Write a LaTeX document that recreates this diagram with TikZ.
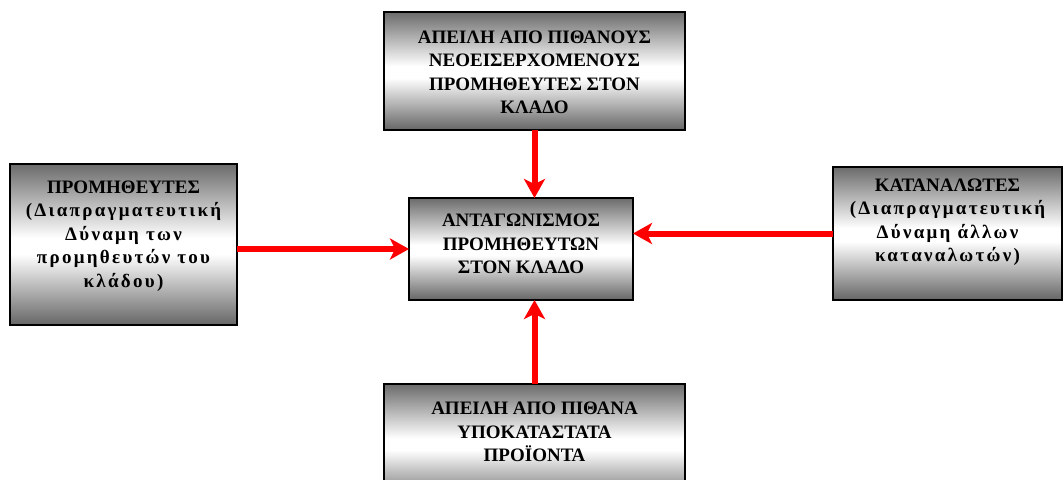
\documentclass[tikz,border=0pt]{standalone}
\usepackage{fontspec}
\setmainfont{Liberation Serif}
\newfontfamily\spacedserif[LetterSpace=12]{Liberation Serif}
\usetikzlibrary{arrows.meta}
\definecolor{metaltop}{gray}{0.42}
\definecolor{metalbot}{gray}{0.40}
\pgfdeclareverticalshading{metal}{100bp}{%
  color(0bp)=(metalbot); color(25bp)=(metalbot); color(47bp)=(white);
  color(52bp)=(white); color(75bp)=(metaltop); color(100bp)=(metaltop)}
\newcommand{\lc}[1]{{\spacedserif\bfseries #1}}
\tikzset{
  forcebox/.style={draw=black, line width=1.6pt, shading=metal,
    rectangle, inner sep=0pt, outer sep=0pt},
  boxtext/.style={align=center, font=\fontsize{19}{23.5}\selectfont\bfseries,
    inner sep=0pt},
  force/.style={draw=red, line width=6pt,
    -{Stealth[length=19pt,width=21pt,inset=5pt]}},
}
\begin{document}
\begin{tikzpicture}[x=1pt,y=-1pt]
  \path[use as bounding box, clip] (0,0) rectangle (1064,479);

  % the five forces
  \node[forcebox, minimum width=301pt, minimum height=118pt] (top) at (534.5,71) {};
  \node[forcebox, minimum width=227pt, minimum height=161pt] (sup) at (123.5,244.5) {};
  \node[forcebox, minimum width=224pt, minimum height=102pt] (ctr) at (521,249) {};
  \node[forcebox, minimum width=229pt, minimum height=133pt] (cus) at (947.5,233.5) {};
  \node[forcebox, minimum width=301pt, minimum height=118pt] (bot) at (534.5,443) {};

  % labels
  \node[boxtext] (toptxt) at (534.5,72.5) {ΑΠΕΙΛΗ ΑΠΟ ΠΙΘΑΝΟΥΣ\\ΝΕΟΕΙΣΕΡΧΟΜΕΝΟΥΣ\\ΠΡΟΜΗΘΕΥΤΕΣ ΣΤΟΝ\\ΚΛΑΔΟ};
  \node[boxtext] (suptxt) at (123.5,236) {ΠΡΟΜΗΘΕΥΤΕΣ\\\lc{(Διαπραγματευτική}\\\lc{Δύναμη των}\\\lc{προμηθευτών του}\\\lc{κλάδου)}};
  \node[boxtext] (ctrtxt) at (521,244) {ΑΝΤΑΓΩΝΙΣΜΟΣ\\ΠΡΟΜΗΘΕΥΤΩΝ\\ΣΤΟΝ ΚΛΑΔΟ};
  \node[boxtext] (custxt) at (947.5,222) {ΚΑΤΑΝΑΛΩΤΕΣ\\\lc{(Διαπραγματευτική}\\\lc{Δύναμη άλλων}\\\lc{καταναλωτών)}};
  \node[boxtext] (bottxt) at (534.5,432) {ΑΠΕΙΛΗ ΑΠΟ ΠΙΘΑΝΑ\\ΥΠΟΚΑΤΑΣΤΑΤΑ\\ΠΡΟΪΟΝΤΑ};

  % arrows into the centre
  \draw[force] (top.south) -- (top.south |- ctr.north);
  \draw[force] (ctr.west -| sup.east) -- (ctr.west);
  \draw[force] (cus.west) -- (cus.west -| ctr.east);
  \draw[force] (bot.north) -- (bot.north |- ctr.south);
\end{tikzpicture}
\end{document}
